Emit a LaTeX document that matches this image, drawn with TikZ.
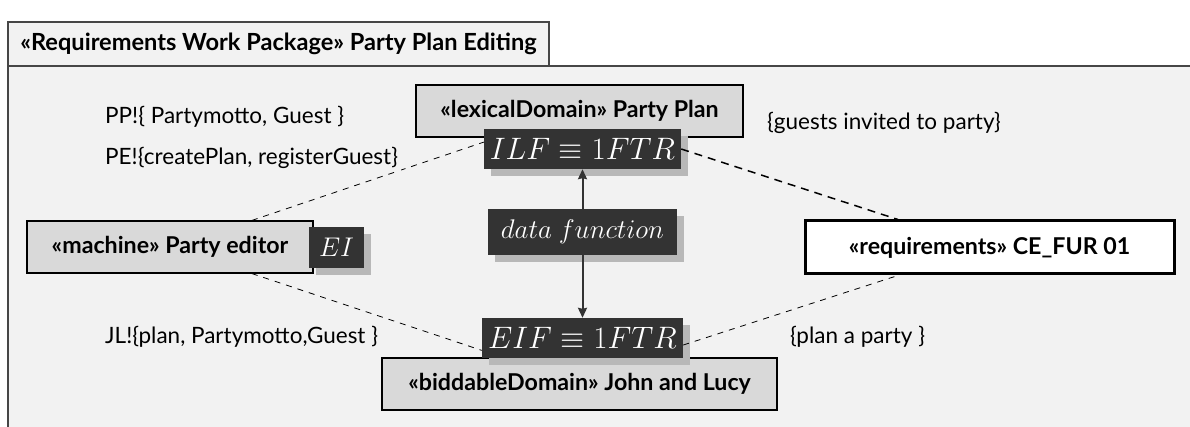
\RequirePackage{fix-cm}
\documentclass[tikz,border=0pt]{standalone}
\usepackage{fontspec}
\setmainfont{Lato}
\usetikzlibrary{arrows.meta,shadows}
\definecolor{framegray}{RGB}{242,242,242}
\definecolor{boxgray}{RGB}{217,217,217}
\definecolor{darkbox}{RGB}{51,51,51}
\definecolor{shadegray}{RGB}{184,184,184}
\definecolor{edgegray}{RGB}{70,70,70}
\tikzset{
  domainbox/.style={draw=black,fill=boxgray,line width=1.2pt,inner sep=0pt,
    font=\bfseries\fontsize{23.2}{27}\selectfont},
  mathbox/.style={fill=darkbox,text=white,inner sep=0pt,
    drop shadow={fill=shadegray,opacity=1,shadow xshift=7pt,shadow yshift=-7pt}},
  phenlabel/.style={anchor=west,fill=framegray,inner sep=3pt,
    font=\fontsize{22.5}{26}\selectfont},
  link/.style={line width=.8pt,dash pattern=on 6pt off 6pt},
}

\begin{document}
\begin{tikzpicture}[x=1pt,y=-1pt,>={Stealth[length=10pt,width=9pt,inset=1pt]}]
 \useasboundingbox (0,0) rectangle (1190,427);
 % package frame
 \fill[framegray] (8,66) rectangle (1190,427);
 \draw[edgegray,line width=1.5pt] (8,427) -- (8,66) -- (1190,66);
 \node[draw=edgegray,fill=framegray,line width=1.5pt,minimum width=541,minimum height=44,
  font=\bfseries\fontsize{23.6}{27}\selectfont] (pkg) at (278.5,44)
  {«Requirements Work Package» Party Plan Editing};
 % domains
 \node[domainbox,minimum width=327,minimum height=52] (lex) at (579.5,111)
  {«lexicalDomain» Party Plan};
 \node[domainbox,minimum width=395,minimum height=52] (bid) at (579.5,384)
  {«biddableDomain» John and Lucy};
 \node[domainbox,minimum width=286,minimum height=52] (mach) at (170,247)
  {«machine» Party editor};
 \node[domainbox,fill=white,line width=3pt,minimum width=369,minimum height=53] (req) at (989.5,247.5)
  {«requirements» CE\_FUR 01};
 % function points
 \node[mathbox,minimum width=197,minimum height=40,font=\fontsize{31}{36}\selectfont] (ilf) at (582.5,149)
  {$ILF\equiv 1FTR$};
 \node[mathbox,minimum width=189,minimum height=46,font=\fontsize{27}{32}\selectfont] (dfun) at (582.5,232)
  {$data\ function$};
 \node[mathbox,minimum width=201,minimum height=40,font=\fontsize{31}{36}\selectfont] (eif) at (582.5,338)
  {$EIF\equiv 1FTR$};
 \node[mathbox,minimum width=55,minimum height=41,font=\fontsize{27}{32}\selectfont] (ei) at (336.5,247.5)
  {$EI$};
 % interfaces
 \draw[link] (mach.18) -- (ilf.176);
 \draw[link] (mach.-18) -- (eif.187);
 \draw[link,line width=1.5pt,dash pattern=on 8pt off 6pt] (ilf.east) -- (req.163);
 \draw[link] (eif.-4) -- (req.197);
 \draw[->,darkbox,line width=2pt] (dfun) -- (ilf);
 \draw[->,darkbox,line width=2pt] (dfun) -- (eif);
 % phenomena
 \node[phenlabel] (pp) at (102,117) {PP!\{ Partymotto, Guest \}};
 \node[phenlabel] (pe) at (102,158) {PE!\{createPlan, registerGuest\}};
 \node[phenlabel] (jl) at (102,337) {JL!\{plan, Partymotto,Guest \}};
 \node[phenlabel] (gst) at (764,123) {\{guests invited to party\}};
 \node[phenlabel] (plan) at (787,337) {\{plan a party \}};
\end{tikzpicture}
\end{document}
